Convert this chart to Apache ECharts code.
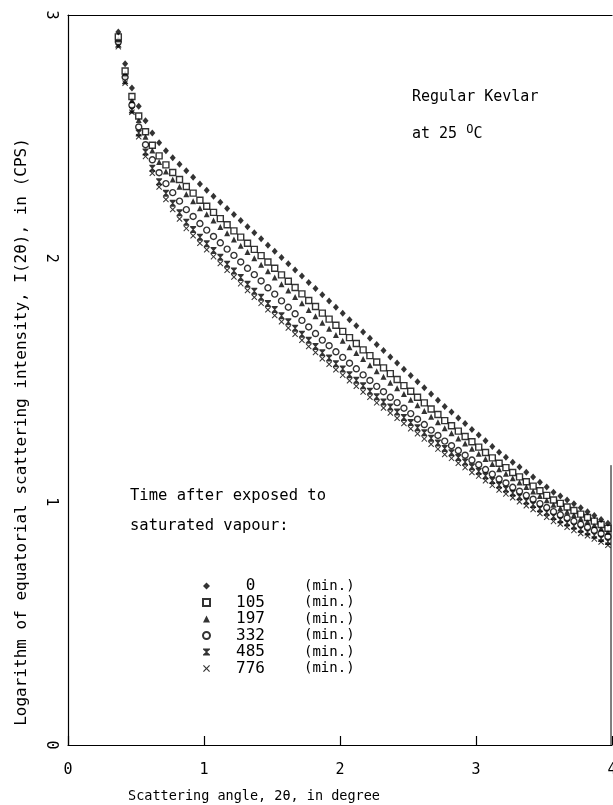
<!DOCTYPE html>
<html>
<head>
<meta charset="utf-8">
<script src="https://cdn.jsdelivr.net/npm/echarts@6/dist/echarts.min.js"></script>
<style>html,body{margin:0;padding:0;background:#fff}#c{width:613px;height:805px}</style>
</head>
<body>
<div id="c"></div>
<script>
// Scattering angle, 2θ (degree)
const angles = [0.37,0.42,0.47,0.52,0.57,0.62,0.67,0.72,0.77,0.82,0.87,0.92,0.97,1.02,1.07,1.12,1.17,1.22,1.27,1.32,1.37,1.42,1.47,1.52,1.57,1.62,1.67,1.72,1.77,1.82,1.87,1.92,1.97,2.02,2.07,2.12,2.17,2.22,2.27,2.32,2.37,2.42,2.47,2.52,2.57,2.62,2.67,2.72,2.77,2.82,2.87,2.92,2.97,3.02,3.07,3.12,3.17,3.22,3.27,3.32,3.37,3.42,3.47,3.52,3.57,3.62,3.67,3.72,3.77,3.82,3.87,3.92,3.97];
// log intensity, one list per exposure time
const t0 = [2.930,2.800,2.700,2.625,2.565,2.515,2.475,2.442,2.413,2.387,2.360,2.333,2.305,2.280,2.255,2.230,2.205,2.180,2.155,2.130,2.105,2.080,2.054,2.029,2.003,1.978,1.952,1.927,1.901,1.876,1.850,1.825,1.799,1.774,1.748,1.723,1.697,1.672,1.646,1.621,1.595,1.570,1.544,1.519,1.493,1.468,1.442,1.417,1.391,1.368,1.344,1.321,1.297,1.274,1.250,1.227,1.203,1.183,1.162,1.142,1.121,1.101,1.080,1.060,1.039,1.023,1.007,0.991,0.975,0.959,0.943,0.927,0.911];
const t105 = [2.910,2.770,2.665,2.585,2.520,2.465,2.421,2.384,2.353,2.324,2.295,2.268,2.239,2.214,2.189,2.163,2.138,2.113,2.087,2.062,2.037,2.011,1.985,1.959,1.932,1.906,1.880,1.854,1.827,1.802,1.775,1.750,1.725,1.700,1.674,1.650,1.624,1.600,1.574,1.550,1.526,1.502,1.477,1.454,1.429,1.406,1.381,1.358,1.333,1.312,1.290,1.268,1.246,1.224,1.202,1.180,1.158,1.140,1.120,1.102,1.082,1.064,1.045,1.026,1.007,0.993,0.978,0.964,0.949,0.935,0.920,0.906,0.891];
const t197 = [2.900,2.760,2.650,2.568,2.500,2.443,2.396,2.357,2.324,2.294,2.263,2.235,2.206,2.181,2.155,2.129,2.103,2.077,2.052,2.026,2.000,1.974,1.947,1.921,1.894,1.868,1.841,1.815,1.788,1.762,1.735,1.711,1.685,1.661,1.635,1.611,1.586,1.561,1.536,1.513,1.489,1.466,1.442,1.419,1.396,1.373,1.349,1.326,1.302,1.281,1.260,1.239,1.217,1.197,1.175,1.155,1.133,1.115,1.096,1.079,1.060,1.042,1.023,1.006,0.987,0.973,0.959,0.945,0.931,0.918,0.904,0.890,0.876];
const t332 = [2.890,2.745,2.630,2.540,2.467,2.405,2.352,2.307,2.270,2.235,2.200,2.172,2.143,2.116,2.090,2.064,2.038,2.012,1.985,1.959,1.933,1.907,1.879,1.853,1.825,1.799,1.772,1.745,1.718,1.691,1.664,1.641,1.616,1.593,1.569,1.546,1.521,1.498,1.474,1.452,1.429,1.407,1.384,1.362,1.339,1.317,1.294,1.272,1.249,1.230,1.210,1.191,1.171,1.152,1.132,1.113,1.093,1.077,1.059,1.043,1.026,1.010,0.992,0.976,0.959,0.946,0.933,0.920,0.907,0.895,0.882,0.869,0.856];
const t485 = [2.880,2.730,2.610,2.515,2.437,2.370,2.315,2.267,2.226,2.187,2.148,2.118,2.087,2.060,2.032,2.004,1.976,1.948,1.921,1.893,1.865,1.840,1.814,1.790,1.764,1.739,1.713,1.688,1.663,1.638,1.612,1.590,1.567,1.545,1.522,1.499,1.476,1.454,1.431,1.410,1.389,1.368,1.346,1.325,1.304,1.283,1.261,1.241,1.219,1.201,1.181,1.163,1.143,1.125,1.106,1.087,1.068,1.052,1.036,1.020,1.003,0.988,0.971,0.956,0.939,0.926,0.913,0.900,0.887,0.875,0.862,0.849,0.836];
const t776 = [2.870,2.720,2.600,2.500,2.419,2.350,2.293,2.242,2.201,2.162,2.123,2.093,2.062,2.035,2.007,1.979,1.951,1.923,1.896,1.868,1.840,1.815,1.789,1.765,1.739,1.714,1.688,1.663,1.638,1.613,1.587,1.565,1.542,1.520,1.497,1.474,1.451,1.429,1.406,1.385,1.364,1.343,1.321,1.300,1.279,1.258,1.236,1.216,1.194,1.178,1.158,1.140,1.120,1.105,1.086,1.067,1.048,1.032,1.016,1.000,0.983,0.968,0.951,0.936,0.919,0.908,0.895,0.882,0.869,0.860,0.847,0.834,0.821];
const times = ['0','105','197','332','485','776'];
const xTicks = [0,1,2,3,4];
const yTicks = [0,1,2,3];

const MONO = '"DejaVu Sans Mono", "Liberation Mono", monospace';
const symbols = [
  {symbol:'diamond', size:[6,7], style:{color:'#000'}},
  {symbol:'rect', size:6, style:{color:'#fff', borderColor:'#000', borderWidth:1.4}},
  {symbol:'triangle', size:6, style:{color:'#000'}},
  {symbol:'circle', size:6, style:{color:'#fff', borderColor:'#000', borderWidth:1.4}},
  {symbol:'path://M0,0 L10,0 L10,1.5 L6,5 L10,8.5 L10,10 L0,10 L0,8.5 L4,5 L0,1.5 Z', size:[6,7], style:{color:'#000'}},
  {symbol:'path://M0,1.2 L1.2,0 L5,3.8 L8.8,0 L10,1.2 L6.2,5 L10,8.8 L8.8,10 L5,6.2 L1.2,10 L0,8.8 L3.8,5 Z', size:6, style:{color:'#000'}}
];
const values = [t0,t105,t197,t332,t485,t776];

const chart = echarts.init(document.getElementById('c'));
const series = values.map((v,k)=>({
  name: times[k],
  type:'scatter',
  symbol: symbols[k].symbol,
  symbolSize: symbols[k].size,
  itemStyle: symbols[k].style,
  data: angles.map((x,i)=>[x, v[i]]),
  z: 10-k,
  silent:true
}));

const texts = [
  {id:'t1', type:'text', left:412, top:90, style:{text:'Regular Kevlar', font:'15px '+MONO, fill:'#000'}},
  {id:'t2', type:'text', left:412, top:124, style:{text:'at 25 {s|O}C', font:'15px '+MONO, fill:'#000',
    rich:{s:{font:'12px '+MONO, verticalAlign:'top', padding:[0,0,9,0]}}}},
  {id:'t3', type:'text', left:130, top:488, style:{text:'Time after exposed to', font:'15.5px '+MONO, fill:'#000'}},
  {id:'t4', type:'text', left:130, top:518, style:{text:'saturated vapour:', font:'15.5px '+MONO, fill:'#000'}},
  {id:'t5', type:'text', left:128, top:789, style:{text:'Scattering angle, 2θ, in degree', font:'13.5px '+MONO, fill:'#000'}},
  {id:'t6', type:'text', x:22, y:432, rotation:Math.PI/2, style:{text:'Logarithm of equatorial scattering intensity, I(2θ), in (CPS)', font:'16px '+MONO, fill:'#000', align:'center', verticalAlign:'middle'}}
];

chart.setOption({
  animation:false,
  backgroundColor:'#fff',
  grid:{left:68, right:1, top:15, bottom:60, outerBoundsMode:'none', containLabel:false},
  xAxis:[{
    type:'value', min:xTicks[0], max:xTicks[xTicks.length-1], interval:1,
    axisLine:{show:true, lineStyle:{color:'#000', width:1.2}},
    axisTick:{show:true, inside:true, length:9, lineStyle:{color:'#000', width:1.2}},
    axisLabel:{show:true, color:'#000', fontFamily:MONO, fontSize:15, margin:18, hideOverlap:false},
    splitLine:{show:false}
  },{
    type:'value', position:'top', min:0, max:4,
    axisLine:{show:true, lineStyle:{color:'#000', width:1.2}},
    axisTick:{show:false}, axisLabel:{show:false}, splitLine:{show:false}
  }],
  yAxis:[{
    type:'value', min:yTicks[0], max:yTicks[yTicks.length-1], interval:1,
    axisLine:{show:true, lineStyle:{color:'#000', width:1.2}},
    axisTick:{show:false},
    axisLabel:{show:true, color:'#000', fontFamily:MONO, fontSize:15, rotate:-90, margin:10},
    splitLine:{show:false}
  }],
  legend:{
    orient:'vertical', left:197, top:573, itemWidth:7, itemHeight:7, itemGap:0.5,
    selectedMode:false,
    data: times,
    formatter: n => '{n|'+n+'}{u|(min.)}',
    textStyle:{
      color:'#000', fontFamily:MONO, lineHeight:15,
      rich:{
        n:{fontFamily:MONO, fontSize:16, width:71, align:'right', lineHeight:15, color:'#000'},
        u:{fontFamily:MONO, fontSize:14, padding:[0,0,0,18], lineHeight:15, color:'#000'}
      }
    }
  },
  graphic:{elements: texts},
  series: series
});

// partial right frame line, located through the axes' scales
const pTop = chart.convertToPixel({xAxisIndex:0, yAxisIndex:0}, [4, 1.15]);
const pBot = chart.convertToPixel({xAxisIndex:0, yAxisIndex:0}, [4, 0]);
chart.setOption({graphic:{elements: texts.concat([{id:'rframe', type:'line', shape:{x1:pTop[0]-1, y1:pTop[1], x2:pBot[0]-1, y2:pBot[1]}, style:{stroke:'#000', lineWidth:1}}])}});
</script>
</body>
</html>
